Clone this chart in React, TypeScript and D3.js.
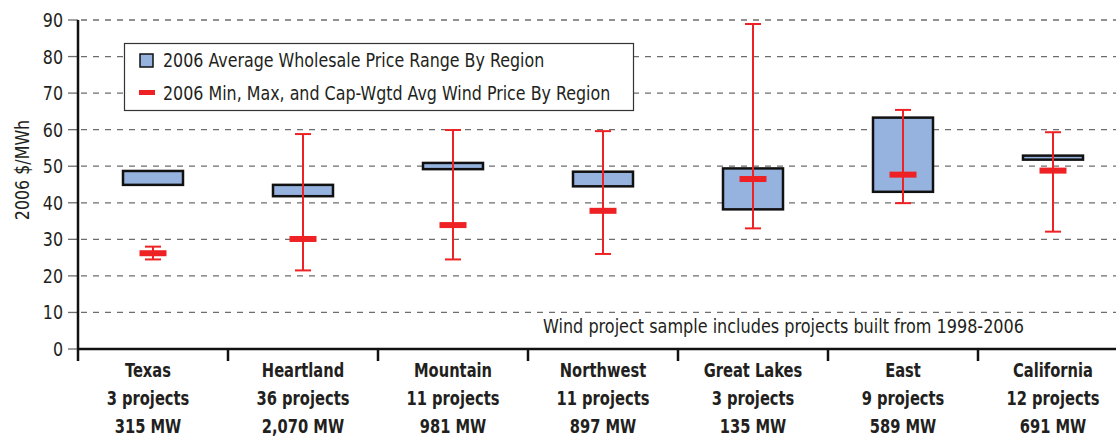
import React from 'react';
import * as d3 from 'd3';

// regions and their sample sizes
const regions = ['Texas', 'Heartland', 'Mountain', 'Northwest', 'Great Lakes', 'East', 'California'];
const projectCounts = ['3 projects', '36 projects', '11 projects', '11 projects', '3 projects', '9 projects', '12 projects'];
const capacities = ['315 MW', '2,070 MW', '981 MW', '897 MW', '135 MW', '589 MW', '691 MW'];

// wholesale price range (box)
const wholesaleLow = [44.9, 41.8, 49.2, 44.5, 38.2, 43.0, 51.8];
const wholesaleHigh = [48.7, 44.9, 50.9, 48.5, 49.4, 63.3, 52.9];

// wind price min / max / capacity-weighted avg
const windMin = [24.5, 21.5, 24.5, 26.0, 33.0, 39.9, 32.1];
const windMax = [28.0, 58.8, 59.9, 59.6, 88.9, 65.4, 59.3];
const windAvg = [26.2, 30.1, 33.9, 37.8, 46.5, 47.7, 48.8];

const yTicks = [0, 10, 20, 30, 40, 50, 60, 70, 80, 90];

const W = 1116;
const H = 437;
const FONT = '"DejaVu Sans Condensed", "Liberation Sans Narrow", sans-serif';
const RED = '#ee2224';
const BLUE = '#95b3de';
const INK = '#231f20';

// squeezed text, the source uses a condensed grotesque
const T = ({ x, y, sx = 0.93, rotate = 0, children, ...rest }: any) => (
  <text transform={`translate(${x},${y}) rotate(${rotate}) scale(${sx},1)`} fill={INK} {...rest}>
    {children}
  </text>
);

export default function App() {
  const left = 78;
  const bandW = 150;

  const x = d3
    .scaleBand<string>()
    .domain(regions)
    .range([left, left + bandW * regions.length])
    .paddingInner(0)
    .paddingOuter(0);

  const y = d3.scaleLinear().domain([0, 90]).range([349, 20]);

  const boxW = 60;
  const capW = 16;
  const avgW = 27;
  const avgH = 6;

  return (
    <svg
      width={W}
      height={H}
      style={{ position: 'absolute', left: 0, top: 0, background: '#fff' }}
      fontFamily={FONT}
    >
      {/* grid lines */}
      {yTicks
        .filter((t) => t > 0)
        .map((t) => (
          <line
            key={'g' + t}
            x1={left}
            x2={W}
            y1={y(t)}
            y2={y(t)}
            stroke="#6d6d6d"
            strokeWidth={1.3}
            strokeDasharray="6,6"
            strokeDashoffset={-3}
          />
        ))}

      {/* y ticks + labels */}
      {yTicks.map((t) => (
        <g key={'t' + t}>
          <line x1={68} x2={left} y1={y(t)} y2={y(t)} stroke="#6d6d6d" strokeWidth={1.3} />
          <T x={63} y={y(t) + 7} textAnchor="end" fontSize={19}>
            {t}
          </T>
        </g>
      ))}

      <T x={29} y={170} rotate={-90} sx={0.93} textAnchor="middle" fontSize={19}>
        2006 $/MWh
      </T>

      {/* axes */}
      <line x1={left} x2={left} y1={y(90)} y2={y(0) + 12} stroke="#111" strokeWidth={2.5} />
      <line x1={left} x2={W} y1={y(0)} y2={y(0)} stroke="#111" strokeWidth={2.5} />
      {regions.map((r) => (
        <line
          key={'xt' + r}
          x1={(x(r) as number) + bandW}
          x2={(x(r) as number) + bandW}
          y1={y(0)}
          y2={y(0) + 12}
          stroke="#111"
          strokeWidth={2.5}
        />
      ))}

      {/* wholesale boxes */}
      {regions.map((r, i) => {
        const cx = (x(r) as number) + bandW / 2;
        return (
          <rect
            key={'b' + r}
            x={cx - boxW / 2}
            y={y(wholesaleHigh[i])}
            width={boxW}
            height={y(wholesaleLow[i]) - y(wholesaleHigh[i])}
            fill={BLUE}
            stroke="#111"
            strokeWidth={2.5}
          />
        );
      })}

      {/* wind whiskers */}
      {regions.map((r, i) => {
        const cx = (x(r) as number) + bandW / 2;
        return (
          <g key={'w' + r} stroke={RED} strokeWidth={2}>
            <line x1={cx} x2={cx} y1={y(windMax[i])} y2={y(windMin[i])} />
            <line x1={cx - capW / 2} x2={cx + capW / 2} y1={y(windMax[i])} y2={y(windMax[i])} />
            <line x1={cx - capW / 2} x2={cx + capW / 2} y1={y(windMin[i])} y2={y(windMin[i])} />
            <rect
              x={cx - avgW / 2}
              y={y(windAvg[i]) - avgH / 2}
              width={avgW}
              height={avgH}
              fill={RED}
              stroke="none"
            />
          </g>
        );
      })}

      {/* category labels */}
      {regions.map((r, i) => {
        const cx = (x(r) as number) + bandW / 2 - (i === 0 ? 5 : 0);
        return (
          <g key={'l' + r} fontWeight="bold" fontSize={19} textAnchor="middle">
            <T x={cx} y={377} sx={0.86}>{r}</T>
            <T x={cx} y={405} sx={0.86}>{projectCounts[i]}</T>
            <T x={cx} y={433} sx={0.86}>{capacities[i]}</T>
          </g>
        );
      })}

      {/* note */}
      <T x={543} y={333} sx={0.94} fontSize={19}>
        Wind project sample includes projects built from 1998-2006
      </T>

      {/* legend */}
      <g>
        <rect x={124.5} y={43.5} width={509} height={67} fill="#fff" stroke="#333" strokeWidth={1.2} />
        <rect x={140} y={54} width={13} height={13} fill={BLUE} stroke="#111" strokeWidth={1.5} />
        <T x={163} y={67} fontSize={19}>
          2006 Average Wholesale Price Range By Region
        </T>
        <rect x={139} y={90} width={16} height={5} fill={RED} />
        <T x={163} y={100} fontSize={19}>
          2006 Min, Max, and Cap-Wgtd Avg Wind Price By Region
        </T>
      </g>
    </svg>
  );
}
